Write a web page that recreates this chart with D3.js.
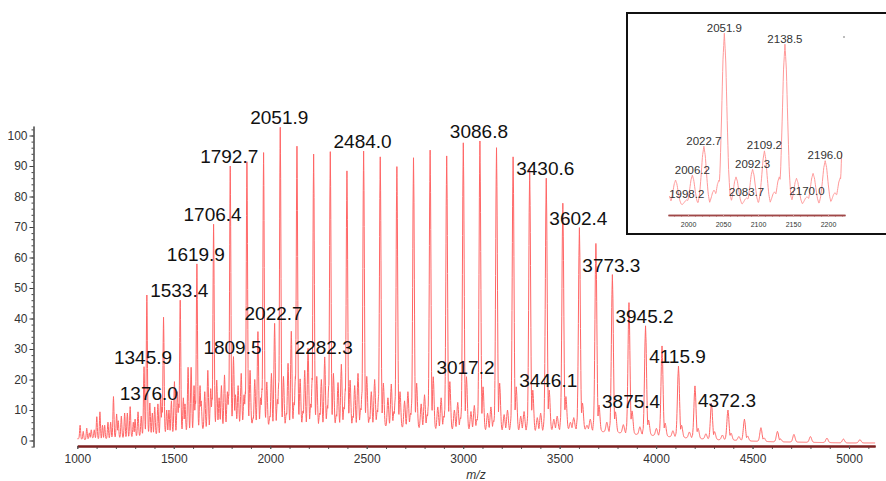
<!DOCTYPE html>
<html>
<head>
<meta charset="utf-8">
<script src="https://cdn.jsdelivr.net/npm/d3@7"></script>
<style>
  html, body { margin: 0; padding: 0; background: #fff; }
  svg { display: block; font-family: "Liberation Sans", Arial, sans-serif; }
</style>
</head>
<body>
<svg id="chart" width="886" height="481"></svg>
<script>
// ---- Peak lists (m/z, relative intensity %) ----
// main oligomer ladder
const ladderMz  = [1014.5, 1101.0, 1187.5, 1274.0, 1360.5, 1447.0, 1533.4, 1619.9, 1706.4, 1792.7, 1879.2, 1965.5, 2051.9, 2138.5, 2224.9, 2311.3, 2397.6, 2484.0, 2570.2, 2656.4, 2742.6, 2828.7, 2914.6, 3000.7, 3086.8, 3172.8, 3258.8, 3344.7, 3430.6, 3516.5, 3602.4, 3687.9, 3773.3, 3859.3, 3945.2, 4030.6, 4115.9, 4201.4, 4286.9, 4372.3, 4457.8, 4543.3, 4628.8, 4714.3, 4799.8, 4885.3, 4970.8, 5056.3];
const ladderInt = [5.0, 7.8, 14.4, 11.1, 47.7, 40.4, 46.0, 57.9, 70.9, 90.0, 91.4, 94.4, 102.7, 96.5, 93.9, 94.7, 88.4, 94.9, 93.0, 89.8, 92.7, 95.2, 93.3, 97.6, 98.2, 96.0, 93.0, 88.9, 86.0, 77.8, 69.8, 64.6, 54.4, 45.2, 37.6, 31.0, 24.4, 17.9, 12.2, 10.0, 7.0, 4.2, 3.0, 2.0, 1.3, 0.8, 0.5, 0.3];

// +16 shoulder series
const shoulderMz  = [1030.8, 1117.3, 1203.8, 1290.3, 1376.0, 1463.3, 1549.7, 1636.2, 1722.7, 1809.5, 1895.5, 1982.2, 2068.6, 2155.0, 2241.2, 2327.6, 2413.9, 2500.3, 2586.5, 2672.7, 2758.9, 2845.0, 2930.9, 3017.2, 3103.1, 3189.1, 3275.1, 3361.0, 3446.1, 3532.6, 3618.5, 3704.0, 3789.5, 3875.4, 3961.3, 4046.8, 4132.1, 4217.6, 4303.1, 4388.5, 4474.0, 4559.5, 4645.0];
const shoulderInt = [3.0, 9.4, 8.7, 6.0, 12.3, 10.0, 14.0, 18.0, 19.8, 27.5, 23.0, 19.2, 21.0, 20.2, 21.0, 22.0, 19.8, 21.0, 18.8, 16.0, 18.8, 20.9, 19.3, 20.9, 17.6, 18.8, 17.6, 16.5, 16.5, 14.4, 12.3, 11.6, 9.4, 9.7, 6.7, 5.7, 5.0, 4.0, 2.9, 2.4, 1.5, 0.9, 0.5];

// series through 2022.7 / 2109.2 / 2196.0 / 2282.3
const seriesBMz  = [1072.4, 1158.9, 1245.4, 1331.4, 1417.8, 1503.5, 1590.0, 1676.5, 1763.0, 1849.6, 1936.2, 2022.7, 2109.2, 2196.0, 2282.3, 2368.6, 2454.9, 2541.2, 2627.4, 2713.6, 2799.7, 2885.8, 2971.8, 3057.8, 3143.8, 3229.7, 3315.6, 3401.5, 3487.3, 3573.1, 3658.8, 3744.5, 3830.2, 3915.9, 4001.5, 4087.0, 4172.5, 4258.0, 4343.5, 4429.0];
const seriesBInt = [3.5, 6.0, 9.0, 8.0, 12.0, 19.3, 24.0, 23.0, 21.5, 22.0, 35.7, 38.4, 35.8, 30.2, 27.4, 25.0, 22.0, 20.0, 18.5, 16.0, 15.0, 14.0, 12.5, 11.5, 11.0, 10.0, 9.5, 9.0, 8.0, 7.5, 7.0, 6.0, 5.2, 4.5, 4.0, 3.2, 2.8, 2.2, 1.8, 1.3];

// series through 1345.9
const seriesCMz  = [1172.9, 1259.4, 1345.9, 1432.3, 1518.7, 1605.1, 1691.5, 1777.9, 1864.3, 1950.7, 2037.1, 2123.5, 2209.9, 2296.2, 2382.5, 2468.8, 2555.0, 2641.2, 2727.4, 2813.5, 2899.6, 2985.6, 3071.6, 3157.6];
const seriesCInt = [6.0, 9.0, 24.2, 14.4, 16.0, 18.0, 17.0, 16.0, 15.0, 14.0, 13.5, 12.5, 12.0, 11.5, 11.0, 10.5, 10.0, 9.5, 9.0, 8.5, 8.0, 7.5, 7.0, 6.5];

// series through 2006.2 / 2092.3
const seriesDMz  = [1141.8, 1228.3, 1314.8, 1401.3, 1487.7, 1574.2, 1660.6, 1747.0, 1833.5, 1919.8, 2006.2, 2092.3, 2178.7, 2265.0, 2351.3, 2437.6, 2523.8, 2610.0, 2696.2, 2782.3, 2868.4, 2954.4, 3040.4, 3126.4, 3212.3, 3298.2, 3384.1, 3470.0, 3555.8, 3641.5];
const seriesDInt = [5.0, 8.0, 9.4, 11.0, 13.0, 24.0, 16.0, 18.0, 18.0, 20.0, 22.0, 25.3, 23.0, 20.0, 19.0, 18.0, 16.0, 14.0, 13.0, 12.0, 11.0, 10.0, 9.5, 9.0, 8.5, 8.0, 7.5, 7.0, 6.0, 5.0];

// series through 2044 / 2130
const seriesEMz  = [1439.1, 1525.5, 1611.9, 1698.4, 1784.8, 1871.2, 1957.6, 2044.0, 2130.4, 2217.5, 2303.1, 2389.4, 2475.7, 2561.9, 2648.1, 2734.3, 2820.4, 2906.5, 2992.5, 3078.5, 3164.5, 3250.5, 3336.4, 3422.3];
const seriesEInt = [11.0, 12.0, 13.0, 14.0, 15.0, 16.0, 17.0, 19.0, 21.0, 20.5, 18.0, 17.0, 16.0, 15.0, 14.0, 13.0, 12.0, 11.0, 10.5, 10.0, 9.0, 8.5, 8.0, 7.5];

// weak series through 1998.2 / 2083.7 / 2170.0
const seriesFMz  = [1825.4, 1911.8, 1998.2, 2083.7, 2170.0, 2256.3, 2342.6, 2428.9, 2515.2];
const seriesFInt = [7.0, 7.5, 7.9, 9.0, 9.7, 9.0, 8.5, 8.0, 7.5];

// other isolated low-mass peaks
const otherMz  = [1049.0, 1062.5, 1088.0, 1130.5, 1212.0, 1299.5, 1389.0, 1475.0, 1558.0, 1642.0, 1735.0, 1820.0];
const otherInt = [4.0, 2.5, 3.5, 5.0, 6.5, 7.0, 9.0, 10.0, 12.0, 13.0, 14.0, 15.0];

// chemical-noise baseline
const baseMz  = [1000, 1040, 1080, 1120, 1160, 1200, 1250, 1300, 1350, 1400, 1450, 1500, 1550, 1600, 1650, 1700, 1750, 1800, 1850, 1900, 1950, 2000, 2100, 2200, 2300, 2400, 2500, 2600, 2700, 2800, 2900, 3000, 3100, 3200, 3300, 3400, 3500, 3600, 3700, 3800, 3900, 4000, 4100, 4200, 4300, 4400, 4500, 4600, 4700, 4800, 4900, 5000, 5135];
const baseInt = [0.6, 0.2, 0.8, 0.3, 0.6, 0.9, 0.8, 1.2, 1.6, 1.8, 2.0, 2.4, 2.8, 3.2, 3.6, 4.2, 4.6, 5.2, 5.4, 5.2, 5.0, 4.6, 4.8, 4.8, 4.4, 4.6, 4.8, 4.4, 4.0, 3.8, 3.4, 3.4, 3.2, 3.0, 3.0, 2.8, 3.4, 3.6, 3.0, 2.6, 2.0, 1.6, 1.1, 0.7, 0.3, 0.1, -0.2, -0.4, -0.5, -0.6, -0.7, -0.8, -0.8];

// annotated peaks
const mainLabels  = [1345.9, 1376.0, 1533.4, 1619.9, 1706.4, 1792.7, 1809.5, 2022.7, 2051.9, 2282.3, 2484.0, 3017.2, 3086.8, 3430.6, 3446.1, 3602.4, 3773.3, 3875.4, 3945.2, 4115.9, 4372.3];
const insetLabels = [1998.2, 2006.2, 2022.7, 2051.9, 2083.7, 2092.3, 2109.2, 2138.5, 2170.0, 2196.0];

// axis ticks
const xTicks = [1000, 1500, 2000, 2500, 3000, 3500, 4000, 4500, 5000];
const yTicks = [0, 10, 20, 30, 40, 50, 60, 70, 80, 90, 100];
const insetTicks = [2000, 2050, 2100, 2150, 2200];

// ---- assemble peaks ----
const peaks = [];
[[ladderMz, ladderInt], [shoulderMz, shoulderInt], [seriesBMz, seriesBInt], [seriesCMz, seriesCInt],
 [seriesDMz, seriesDInt], [seriesEMz, seriesEInt], [seriesFMz, seriesFInt], [otherMz, otherInt]]
  .forEach(([ms, hs]) => ms.forEach((m, i) => peaks.push({ mz: m, h: hs[i] })));
const peakByMz = new Map(peaks.map(p => [p.mz, p]));

const baseline = d3.scaleLinear().domain(baseMz).range(baseInt);
// line shape of one peak, offset in half-widths -> fraction of height
const peakShape = d3.scaleLinear()
  .domain([-3, -2, -1.5, -1, -0.5, 0, 0.5, 1, 1.5, 2, 3])
  .range([0, 0.06, 0.21, 0.5, 0.84, 1, 0.84, 0.5, 0.21, 0.06, 0])
  .clamp(true);
// peak half-width (Da) grows with mass
const halfWidth = d3.scaleLinear().domain([1000, 5000]).range([3.0, 7.0]);

function profile(lo, hi, step) {
  const s = new Set(d3.range(lo, hi + step / 2, step).map(v => +v.toFixed(2)));
  peaks.forEach(p => { if (p.mz >= lo && p.mz <= hi) s.add(p.mz); });
  const xs = Array.from(s).sort((a, b) => a - b);
  const ys = xs.map(m => baseline(m));
  const bis = d3.bisector(d => d).left;
  peaks.forEach(p => {
    const w = halfWidth(p.mz);
    const i0 = bis(xs, p.mz - 3 * w), i1 = bis(xs, p.mz + 3 * w);
    for (let i = i0; i < i1; i++) {
      const b = baseline(xs[i]);
      const v = b + (p.h - b) * peakShape((xs[i] - p.mz) / w);
      if (v > ys[i]) ys[i] = v;
    }
  });
  return xs.map((m, i) => [m, ys[i]]);
}

// ---- main plot ----
const svg = d3.select("#chart");
const x = d3.scaleLinear().domain([1000, 5135]).range([77.3, 875.1]);
const y = d3.scaleLinear().domain([0, 100]).range([440.5, 135.5]);

const spectrum = profile(1000, 5135, 1);
svg.append("path")
  .datum(spectrum)
  .attr("fill", "none")
  .attr("stroke", "#ff6666")
  .attr("stroke-width", 1)
  .attr("stroke-linejoin", "round")
  .attr("d", d3.line().x(d => x(d[0])).y(d => y(d[1])));

// y axis (offset to the left of the data)
const yAxisScale = d3.scaleLinear().domain([-2.1, 103.1]).range([y(-2.1), y(103.1)]);
const yAxisG = svg.append("g").attr("transform", "translate(33.5,0)");
yAxisG.call(d3.axisLeft(yAxisScale).tickValues(d3.range(-2, 103, 2)).tickSize(2).tickSizeOuter(0).tickFormat(""));
yAxisG.append("g").call(d3.axisLeft(yAxisScale).tickValues(yTicks).tickSize(4).tickSizeOuter(0).tickPadding(2));
yAxisG.selectAll("path.domain").attr("stroke", "#444");
yAxisG.selectAll(".tick line").attr("stroke", "#444");
yAxisG.selectAll("text").attr("font-size", 12).attr("fill", "#333").attr("font-family", "Liberation Sans, Arial, sans-serif");

// x axis
const xAxisG = svg.append("g").attr("transform", "translate(0,446)");
xAxisG.call(d3.axisBottom(x).tickValues(d3.range(1000, 5101, 100)).tickSize(3).tickSizeOuter(0).tickFormat(""));
xAxisG.append("g").call(d3.axisBottom(x).tickValues(xTicks).tickSize(3).tickSizeOuter(0).tickPadding(5).tickFormat(d3.format("d")));
xAxisG.selectAll(".tick line").attr("stroke", "#555");
xAxisG.selectAll("path.domain").attr("stroke", "#7d1f1f").attr("stroke-width", 2);
xAxisG.selectAll("text").attr("font-size", 12).attr("fill", "#333").attr("font-family", "Liberation Sans, Arial, sans-serif");

svg.append("text")
  .attr("x", 476).attr("y", 479)
  .attr("text-anchor", "middle")
  .attr("font-size", 12).attr("font-style", "italic").attr("fill", "#333")
  .text("m/z");

// peak annotations
svg.append("g").selectAll("text")
  .data(mainLabels)
  .join("text")
  .attr("x", d => x(d) - 1)
  .attr("y", d => y(peakByMz.get(d).h) - 3)
  .attr("text-anchor", "middle")
  .attr("font-size", 19)
  .attr("fill", "#111")
  .text(d => d.toFixed(1));

// ---- inset: zoom on 1970-2225 ----
const inset = svg.append("g");
inset.append("rect")
  .attr("x", 627).attr("y", 13).attr("width", 270).attr("height", 221)
  .attr("fill", "#fff").attr("stroke", "#111").attr("stroke-width", 2);

const xi = d3.scaleLinear().domain([1971.4, 2224.3]).range([668, 845]);
const yi = d3.scaleLinear().domain([0, 102.7]).range([213.8, 33.3]);

inset.append("path")
  .datum(profile(1973.5, 2219.5, 0.5))
  .attr("fill", "none")
  .attr("stroke", "#ff9a9a")
  .attr("stroke-width", 1)
  .attr("d", d3.line().x(d => xi(d[0])).y(d => yi(d[1])));

const insetAxisG = inset.append("g").attr("transform", "translate(0,215)");
insetAxisG.call(d3.axisBottom(xi).tickValues(d3.range(1980, 2221, 10)).tickSize(2).tickSizeOuter(0).tickFormat(""));
insetAxisG.append("g").call(d3.axisBottom(xi).tickValues(insetTicks).tickSize(2).tickSizeOuter(0).tickPadding(5).tickFormat(d3.format("d")));
insetAxisG.selectAll("path.domain").attr("stroke", "#a04848").attr("stroke-width", 1.5);
insetAxisG.selectAll(".tick line").attr("stroke", "#c99");
insetAxisG.selectAll("text").attr("font-size", 7).attr("fill", "#333").attr("font-family", "Liberation Sans, Arial, sans-serif");

inset.append("g").selectAll("text")
  .data(insetLabels)
  .join("text")
  .attr("x", d => xi(d))
  .attr("y", d => yi(peakByMz.get(d).h) - 1.5)
  .attr("text-anchor", "middle")
  .attr("font-size", 11.5)
  .attr("fill", "#333")
  .text(d => d.toFixed(1));

inset.append("circle").attr("cx", 844).attr("cy", 37).attr("r", 0.8).attr("fill", "#666");
</script>
</body>
</html>
